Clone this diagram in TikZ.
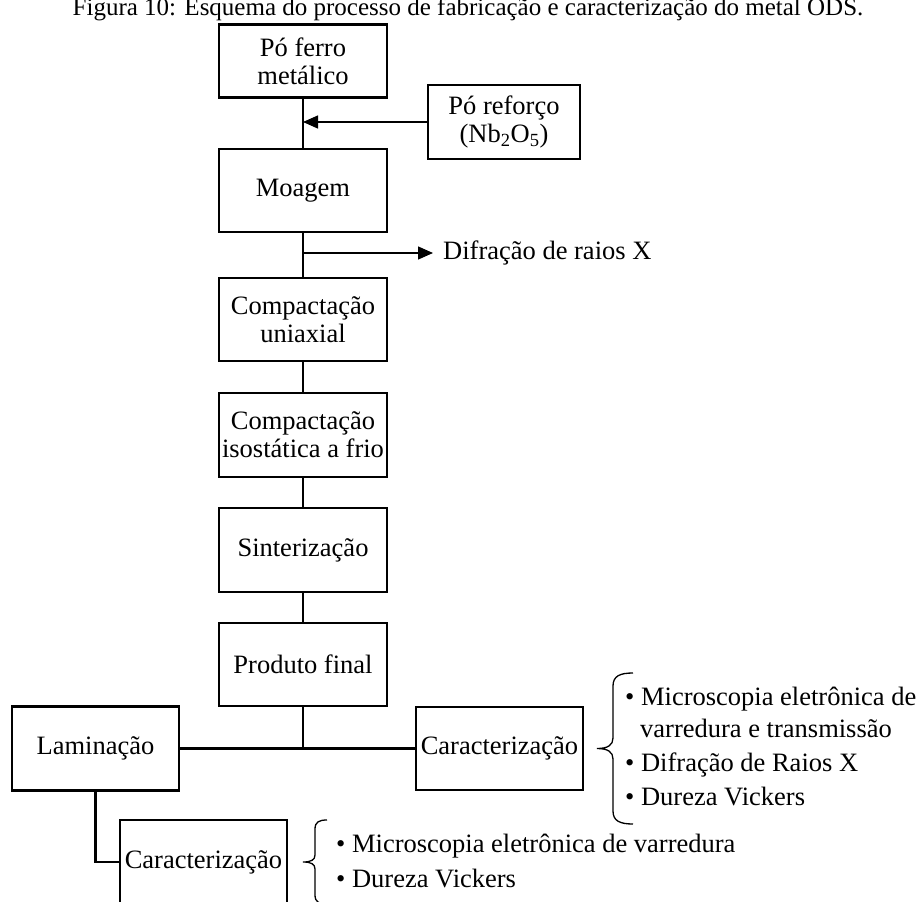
\documentclass[tikz,border=0pt]{standalone}
\usepackage{fontspec}
\setmainfont{Liberation Serif}
\usetikzlibrary{arrows.meta}
\begin{document}
\begin{tikzpicture}[x=1pt,y=-1pt,
  box/.style={draw, line width=2.6pt, inner sep=0pt, align=center, font=\fontsize{26.5}{28}\selectfont},
  wbox/.style={box, minimum width=168pt, minimum height=83pt},
  conn/.style={line width=2.4pt},
  thinline/.style={line width=1.3pt},
  arr/.style={thinline, -{Triangle[length=15pt,width=13pt]}},
  txt/.style={inner sep=0pt, font=\fontsize{26.5}{28}\selectfont},
  bracepath/.style={line width=1.3pt}]
\clip (0,0) rectangle (924,902);
% title (cut at the top edge as in the reference)
\node[inner sep=0pt, anchor=base, font=\fontsize{25}{26}\selectfont] (title) at (468,15)
  {Figura 10: Esquema do processo de fabricação e caracterização do metal ODS.};
% boxes
\node[box, minimum width=168pt, minimum height=73pt] (ferro) at (303,61) {Pó ferro\\metálico};
\node[box, minimum width=152pt, minimum height=74pt] (reforco) at (504,122) {Pó reforço\\(Nb\textsubscript{2}O\textsubscript{5})};
\node[wbox] (moagem) at (303,190.5) {Moagem};
\node[wbox] (compuni) at (303,319.5) {Compactação\\uniaxial};
\node[wbox, minimum height=84pt] (compiso) at (303,435) {Compactação\\isostática a frio};
\node[wbox, minimum height=84pt] (sinter) at (303,550) {Sinterização};
\node[wbox] (produto) at (303,664.5) {Produto final};
\node[wbox, minimum width=167pt, minimum height=84pt] (lamin) at (95.5,748.5) {Laminação};
\node[wbox, minimum width=167pt] (carac1) at (499.5,748.5) {Caracterização};
\node[wbox, minimum width=167pt, minimum height=84pt] (carac2) at (203.5,862) {Caracterização};
% side text
\node[txt, anchor=west, inner xsep=10pt] (difr) at (433,253) {Difração de raios X};
\coordinate (dstart) at (303,253);
% connectors
\draw[conn] (ferro.south) -- (moagem.north);
\draw[arr] (reforco.west) -- (reforco.west -| ferro.south);
\draw[conn] (moagem.south) -- (compuni.north);
\draw[arr] (dstart) -- (difr.west);
\draw[conn] (compuni.south) -- (compiso.north);
\draw[conn] (compiso.south) -- (sinter.north);
\draw[conn] (sinter.south) -- (produto.north);
\draw[conn] (produto.south) -- (produto.south |- lamin.east);
\draw[conn] (lamin.east) -- (carac1.west);
\draw[conn] (lamin.south) |- (carac2.west);
% brace 1
\draw[bracepath] (633,673) .. controls (620,673) and (613,676) .. (613,686) -- (613,738)
  .. controls (613,745) and (608,748.5) .. (597,748.5)
  .. controls (608,748.5) and (613,752) .. (613,759) -- (613,811)
  .. controls (613,821) and (620,824) .. (633,824);
% brace 2
\draw[bracepath] (327,820) .. controls (319,820) and (315,822) .. (315,829) -- (315,855)
  .. controls (315,860) and (311,862) .. (303,862)
  .. controls (311,862) and (315,864) .. (315,869) -- (315,895)
  .. controls (315,902) and (319,904) .. (327,904);
% bullet list 1
\node[txt, anchor=base west] (b1a) at (625,705) {\textbullet\ Microscopia eletrônica de};
\node[txt, anchor=base west] (b1b) at (640,737) {varredura e transmissão};
\node[txt, anchor=base west] (b1c) at (625,771) {\textbullet\ Difração de Raios X};
\node[txt, anchor=base west] (b1d) at (625,805) {\textbullet\ Dureza Vickers};
% bullet list 2
\node[txt, anchor=base west] (b2a) at (336,852) {\textbullet\ Microscopia eletrônica de varredura};
\node[txt, anchor=base west] (b2b) at (336,887) {\textbullet\ Dureza Vickers};
\end{tikzpicture}
\end{document}
